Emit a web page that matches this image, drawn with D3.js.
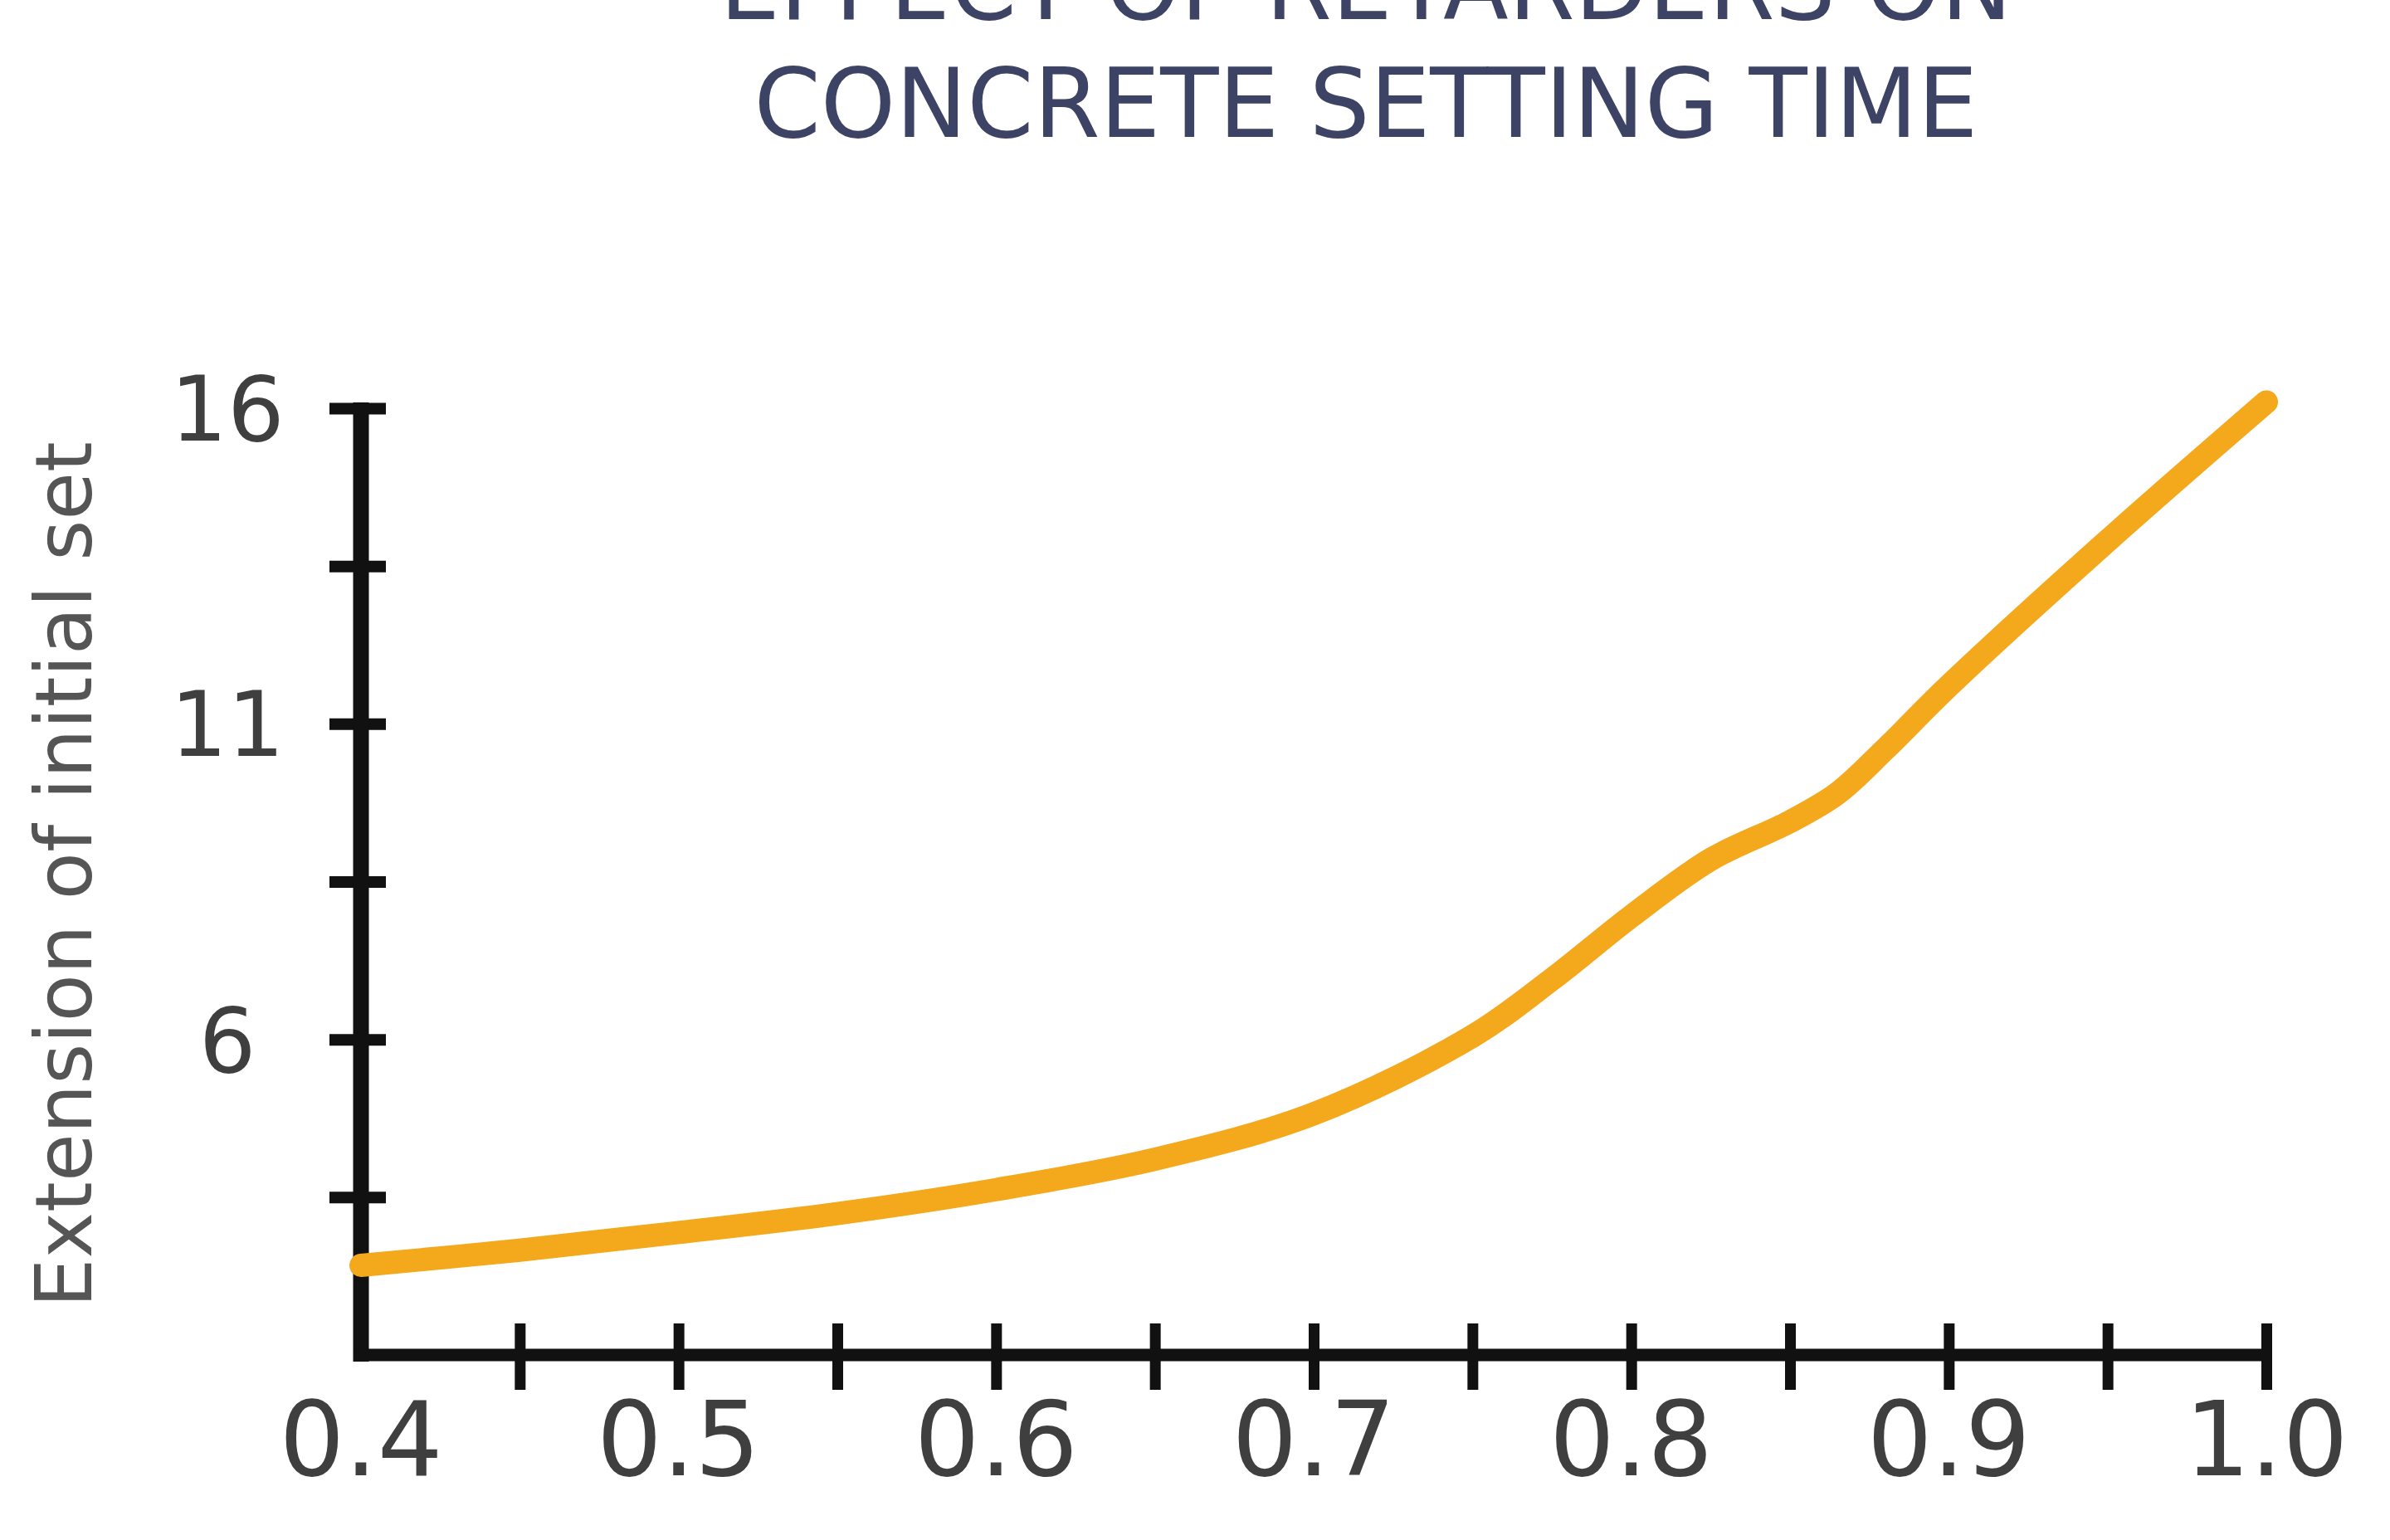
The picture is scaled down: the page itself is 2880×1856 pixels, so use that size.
<!DOCTYPE html>
<html>
<head>
<meta charset="utf-8">
<script src="https://cdn.jsdelivr.net/npm/d3@7"></script>
<style>
  body { margin: 0; background: #fff; }
  svg { display: block; }
</style>
</head>
<body>
<svg id="chart"></svg>
<script>
// data
const titleLines = ["EFFECT OF RETARDERS ON", "CONCRETE SETTING TIME"];
const yTitle = "Extension of initial set";
const ratio = [0.40, 0.45, 0.50, 0.55, 0.60, 0.65, 0.70, 0.75, 0.775, 0.80, 0.825, 0.85, 0.865, 0.88, 0.90, 0.95, 1.00];
const extension = [2.42, 2.66, 2.94, 3.24, 3.62, 4.1, 4.82, 6.05, 6.95, 7.95, 8.85, 9.45, 9.9, 10.6, 11.6, 13.9, 16.1];
const xTicks = [0.45, 0.5, 0.55, 0.6, 0.65, 0.7, 0.75, 0.8, 0.85, 0.9, 0.95, 1.0];
const xLabels = [0.4, 0.5, 0.6, 0.7, 0.8, 0.9, 1.0];
const yTicks = [3.5, 6, 8.5, 11, 13.5, 16];
const yLabels = [6, 11, 16];

const width = 2880;
const height = 1856;
const margin = { top: 492, bottom: 223, left: 435, right: 149 };

const svg = d3.select("#chart")
    .attr("width", width)
    .attr("height", height);

svg.append("rect")
    .attr("width", width)
    .attr("height", height)
    .attr("fill", "#fff");

const x = d3.scaleLinear()
    .domain([0.4, 1.0])
    .range([margin.left, width - margin.right]);

const y = d3.scaleLinear()
    .domain([1, 16])
    .range([height - margin.bottom, margin.top]);

// title (top line is cut off by the frame)
svg.append("g")
    .selectAll("text")
    .data(titleLines)
    .join("text")
    .attr("x", 1646)
    .attr("y", (d, i) => 23 + i * 142)
    .attr("text-anchor", "middle")
    .style("font-family", "'DejaVu Sans', sans-serif")
    .style("font-size", "115px")
    .style("fill", "#3d4365")
    .text(d => d);

// y axis
const yAxis = svg.append("g")
    .attr("transform", `translate(${x(0.4)},0)`)
    .call(d3.axisLeft(y).tickValues(yTicks).tickSize(38).tickFormat(""));
yAxis.select(".domain").remove();
yAxis.selectAll(".tick line")
    .attr("x1", 30)
    .attr("stroke", "#111")
    .attr("stroke-width", 14);

svg.append("line")
    .attr("x1", x(0.4))
    .attr("x2", x(0.4))
    .attr("y1", y(16) - 7)
    .attr("y2", y(1) + 8)
    .attr("stroke", "#111")
    .attr("stroke-width", 19);

svg.append("g")
    .selectAll("text")
    .data(yLabels)
    .join("text")
    .attr("x", 274)
    .attr("y", d => y(d))
    .attr("dy", "0.36em")
    .attr("text-anchor", "middle")
    .style("font-family", "'DejaVu Sans', sans-serif")
    .style("font-size", "108px")
    .style("fill", "#3f3f3f")
    .text(d => d);

// x axis
const xAxis = svg.append("g")
    .attr("transform", `translate(0,${y(1)})`)
    .call(d3.axisBottom(x).tickValues(xTicks).tickSize(42).tickFormat(""));
xAxis.select(".domain").remove();
xAxis.selectAll(".tick line")
    .attr("y1", -38)
    .attr("stroke", "#111")
    .attr("stroke-width", 13);

svg.append("line")
    .attr("x1", x(0.4) - 9)
    .attr("x2", x(1.0) + 6)
    .attr("y1", y(1))
    .attr("y2", y(1))
    .attr("stroke", "#111")
    .attr("stroke-width", 15);

svg.append("g")
    .selectAll("text")
    .data(xLabels)
    .join("text")
    .attr("x", d => x(d))
    .attr("y", 1778)
    .attr("text-anchor", "middle")
    .style("font-family", "'DejaVu Sans', sans-serif")
    .style("font-size", "124px")
    .style("fill", "#3f3f3f")
    .text(d => d.toFixed(1));

// y axis title
svg.append("text")
    .attr("transform", "translate(110,1054) rotate(-90)")
    .attr("text-anchor", "middle")
    .style("font-family", "'DejaVu Sans', sans-serif")
    .style("font-size", "94px")
    .style("fill", "#555")
    .text(yTitle);

// curve
const points = ratio.map((r, i) => [r, extension[i]]);
const line = d3.line()
    .x(d => x(d[0]))
    .y(d => y(d[1]))
    .curve(d3.curveCatmullRom.alpha(0.5));

svg.append("path")
    .datum(points)
    .attr("d", line)
    .attr("fill", "none")
    .attr("stroke", "#f4a81c")
    .attr("stroke-width", 28)
    .attr("stroke-linecap", "round")
    .attr("stroke-linejoin", "round");
</script>
</body>
</html>
